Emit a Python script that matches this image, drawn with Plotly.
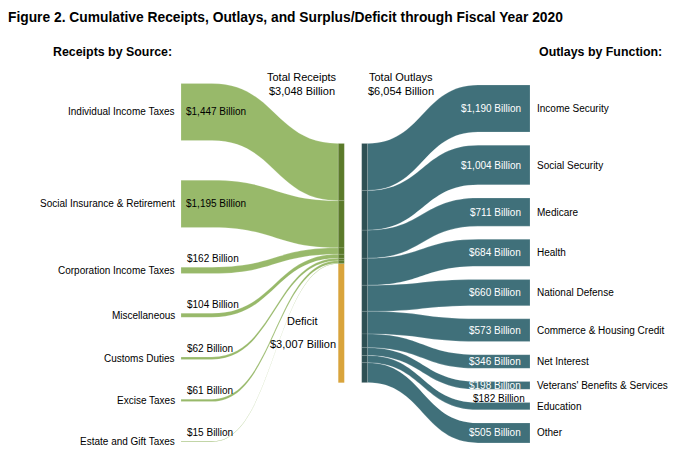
import plotly.graph_objects as go

# ---------------- data ----------------
receipt_sources = ["Individual Income Taxes", "Social Insurance & Retirement",
                   "Corporation Income Taxes", "Miscellaneous", "Customs Duties",
                   "Excise Taxes", "Estate and Gift Taxes"]
receipt_values = [1447, 1195, 162, 104, 62, 61, 15]

outlay_functions = ["Income Security", "Social Security", "Medicare", "Health",
                    "National Defense", "Commerce & Housing Credit", "Net Interest",
                    "Veterans' Benefits & Services", "Education", "Other"]
outlay_values = [1190, 1004, 711, 684, 660, 573, 346, 198, 182, 505]

total_receipts = 3048
total_outlays = 6054
deficit = 3007

title_text = "Figure 2. Cumulative Receipts, Outlays, and Surplus/Deficit through Fiscal Year 2020"

# ---------------- layout constants ----------------
W, H = 700, 458
K = 0.0395            # px per billion
LEFT_TOP, LEFT_PAD = 83.4, 39.7
RIGHT_TOP, RIGHT_PAD = 85.0, 13.2
MID_TOP = 143.5
L_X0, L_X1, L_X2 = 181, 212, 338.3       # left node start, curve start, receipts node
RN_X0, RN_X1 = 338.3, 344.3              # receipts/deficit node
ON_X0, ON_X1 = 361.7, 367.5              # outlays node
R_X1, R_X2 = 478, 530                    # right curve end, right node end

GREEN = "#98b96a"
GREEN_NODE = "#5b7a2a"
ORANGE = "#d9a43c"
TEAL = "#40707a"
TEAL_NODE = "#2e5054"
SEP = "rgba(255,255,255,0.35)"

FONT = "Liberation Sans, Arial, sans-serif"
BOLD_FONT = "Liberation Sans Narrow, Arial Narrow, Liberation Sans, Arial, sans-serif"

shapes = []
annotations = []


def txt(x, y, s, size=10, color="black", xanchor="left", yanchor="middle", family=FONT):
    annotations.append(dict(x=x, y=y, xref="x", yref="y", text=s, showarrow=False,
                            xanchor=xanchor, yanchor=yanchor,
                            font=dict(family=family, size=size, color=color)))


def money(v):
    return f"${v:,} Billion"


# ---------------- left links ----------------
mid_y = MID_TOP
ly = LEFT_TOP
cx = (L_X1 + L_X2) / 2
for name, v in zip(receipt_sources, receipt_values):
    h = v * K
    y0, y1 = ly, ly + h
    t0, t1 = mid_y, mid_y + h
    path = (f"M {L_X0},{y0} L {L_X1},{y0} C {cx},{y0} {cx},{t0} {L_X2},{t0} "
            f"L {L_X2},{t1} C {cx},{t1} {cx},{y1} {L_X1},{y1} L {L_X0},{y1} Z")
    shapes.append(dict(type="path", path=path, xref="x", yref="y",
                       fillcolor=GREEN, line=dict(color=SEP, width=0.5), layer="below"))
    # receipts node segment
    shapes.append(dict(type="rect", x0=RN_X0, x1=RN_X1, y0=t0, y1=t1, xref="x", yref="y",
                       fillcolor=GREEN_NODE, line=dict(color="rgba(255,255,255,0.18)", width=0.5)))
    yc = (y0 + y1) / 2
    txt(L_X0 - 4, yc, name, xanchor="right")
    if h > 15:
        txt(L_X0 + 3, yc, money(v))
    else:
        txt(L_X0 + 4, y0 - 1.5, money(v), yanchor="bottom")
    ly = y1 + LEFT_PAD
    mid_y = t1

# deficit node
rec_bottom = MID_TOP + total_receipts * K
shapes.append(dict(type="rect", x0=RN_X0, x1=RN_X1, y0=rec_bottom, y1=rec_bottom + deficit * K,
                   xref="x", yref="y", fillcolor=ORANGE, line=dict(width=0)))

# ---------------- right links ----------------
ry = RIGHT_TOP
sy = MID_TOP
cx2 = (ON_X1 + R_X1) / 2
for name, v in zip(outlay_functions, outlay_values):
    h = v * K
    s0, s1 = sy, sy + h
    y0, y1 = ry, ry + h
    path = (f"M {ON_X1},{s0} C {cx2},{s0} {cx2},{y0} {R_X1},{y0} L {R_X2},{y0} "
            f"L {R_X2},{y1} L {R_X1},{y1} C {cx2},{y1} {cx2},{s1} {ON_X1},{s1} Z")
    shapes.append(dict(type="path", path=path, xref="x", yref="y",
                       fillcolor=TEAL, line=dict(color=SEP, width=0.5), layer="below"))
    shapes.append(dict(type="rect", x0=ON_X0, x1=ON_X1, y0=s0, y1=s1, xref="x", yref="y",
                       fillcolor=TEAL_NODE, line=dict(color="rgba(255,255,255,0.18)", width=0.5)))
    yc = (y0 + y1) / 2
    txt(R_X2 + 5, yc, name)
    if h >= 7.5:
        txt(R_X2 - 7, yc, money(v), color="white", xanchor="right")
    else:
        txt(R_X2 - 3, y0 - 4, money(v), xanchor="right")
    ry = y1 + RIGHT_PAD
    sy = s1

# ---------------- headers ----------------
txt(6, 17, f"<b>{title_text}</b>", size=13.8, family=BOLD_FONT)
txt(112, 52, "<b>Receipts by Source:</b>", size=12.4, xanchor="center", family=BOLD_FONT)
txt(600.5, 52, "<b>Outlays by Function:</b>", size=12.4, xanchor="center", family=BOLD_FONT)
txt(302, 77, "Total Receipts", size=11, xanchor="center")
txt(302, 91, money(total_receipts), size=11, xanchor="center")
txt(401, 77, "Total Outlays", size=11, xanchor="center")
txt(401, 91, money(total_outlays), size=11, xanchor="center")
txt(302.5, 321, "Deficit", size=11, xanchor="center")
txt(302.5, 344, money(deficit), size=11, xanchor="center")

fig = go.Figure()
fig.add_trace(go.Scatter(x=[0, W], y=[0, H], mode="markers", marker=dict(opacity=0),
                         hoverinfo="skip", showlegend=False))
fig.update_layout(
    width=W, height=H, margin=dict(l=0, r=0, t=0, b=0),
    paper_bgcolor="white", plot_bgcolor="white",
    xaxis=dict(range=[0, W], visible=False, fixedrange=True),
    yaxis=dict(range=[H, 0], visible=False, fixedrange=True),
    shapes=shapes, annotations=annotations, showlegend=False,
)
fig.write_html("out.html", config={"displayModeBar": False},
               post_script="document.body.style.margin='0';document.body.style.padding='0';")
